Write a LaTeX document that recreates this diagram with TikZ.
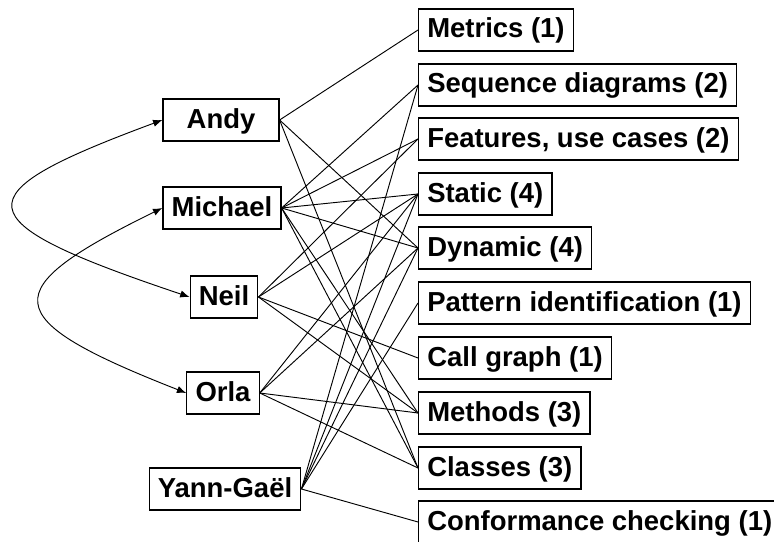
\documentclass[tikz,border=0pt]{standalone}
\usepackage{fontspec}
\setmainfont{Liberation Sans}
\usetikzlibrary{arrows.meta}

\tikzset{
  person/.style={draw,line width=0.9pt,inner xsep=6.5pt,minimum height=31.5pt,
    text height=15.5pt,text depth=3.5pt,
    font=\fontsize{20.6}{24}\selectfont\bfseries},
  topic/.style={person,anchor=west},
  link/.style={line width=0.7pt},
}

\begin{document}
\begin{tikzpicture}[x=0.75pt,y=-0.75pt,>={Latex[length=7pt,width=5.5pt]}]
            \useasboundingbox (0,0) rectangle (774,542);
            \clip (0,0) rectangle (774,542);

            % people
            \node[person,minimum width=87pt] (andy) at (221,120) {Andy};
            \node[person] (michael) at (222,208) {Michael};
            \node[person] (neil) at (224,297) {Neil};
            \node[person] (orla) at (223,393) {Orla};
            \node[person] (yann) at (225,489) {Yann-Gaël};

            % topics
            \node[topic] (metrics) at (418,30) {Metrics (1)};
            \node[topic] (seq) at (418,85) {Sequence diagrams (2)};
            \node[topic] (feat) at (418,139) {Features, use cases (2)};
            \node[topic] (static) at (418,194) {Static (4)};
            \node[topic] (dyn) at (418,248) {Dynamic (4)};
            \node[topic] (pattern) at (418,303) {Pattern identification (1)};
            \node[topic] (call) at (418,358) {Call graph (1)};
            \node[topic] (methods) at (418,413) {Methods (3)};
            \node[topic] (classes) at (418,468) {Classes (3)};
            \node[topic] (conf) at (418,522) {Conformance checking (1)};

            \foreach \a/\b in {andy/metrics,andy/dyn,andy/classes,
                michael/seq,michael/feat,michael/static,michael/dyn,michael/methods,michael/classes,
                neil/feat,neil/static,neil/call,neil/methods,
                orla/static,orla/dyn,orla/methods,orla/classes,
                yann/seq,yann/static,yann/dyn,yann/pattern,yann/conf}
                \draw[link] (\a.east) -- (\b.west);

            \draw[link,<->] (andy.west) .. controls (-40,195) and (-40,220) .. (neil.west);
            \draw[link,<->] (michael.west) .. controls (-5,290) and (-5,318) .. (orla.west);
        \end{tikzpicture}
\end{document}
